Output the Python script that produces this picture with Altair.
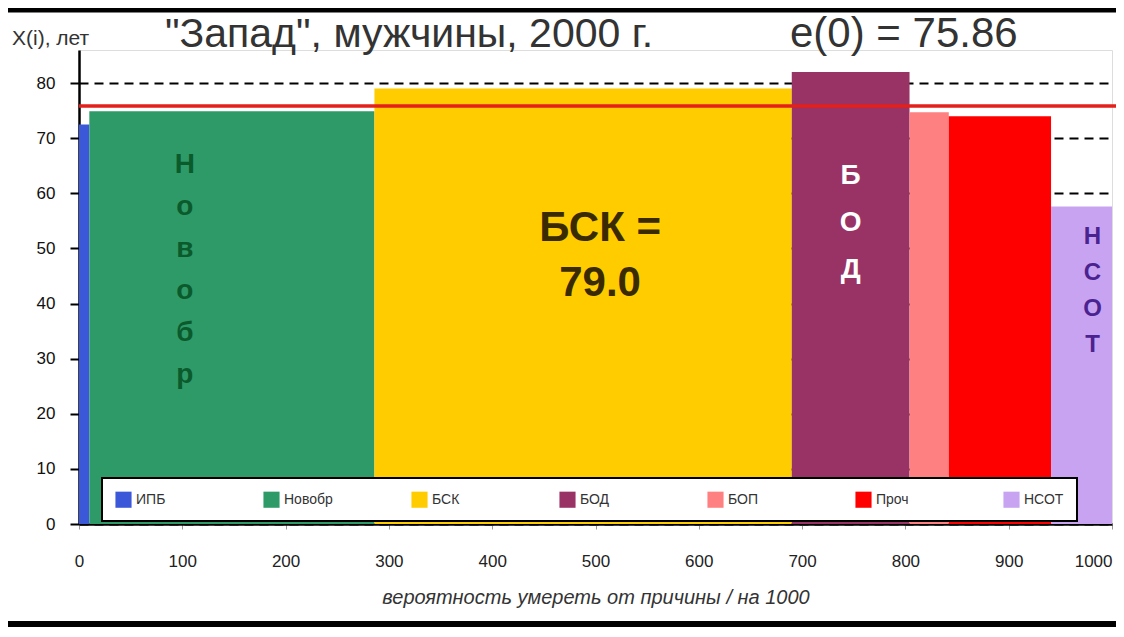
import altair as alt
import pandas as pd

# ---- data ----
causes = ["ИПБ", "Новобр", "БСК", "БОД", "БОП", "Проч", "НСОТ"]
widths = [10, 276, 404, 114, 38, 99, 59]            # probability of dying from cause, per 1000
heights = [72.5, 74.9, 79.0, 82.0, 74.7, 74.0, 57.6]  # mean age at death, years
colors = ["#3A58D8", "#2E9A68", "#FFCC00", "#993366", "#FF8080", "#FF0000", "#C7A3F2"]
e0 = 75.86
x_ticks = list(range(0, 1001, 100))
y_ticks = list(range(0, 81, 10))

title_left = "X(i), лет"
title_main = "\"Запад\", мужчины, 2000 г."
title_e0 = f"e(0) = {e0:.2f}"
x_title = "вероятность умереть от причины / на 1000"

# ---- derived table ----
x0, acc = [], 0
for w in widths:
    x0.append(acc)
    acc += w
df = pd.DataFrame({
    "cause": causes,
    "x0": x0,
    "x1": [a + w for a, w in zip(x0, widths)],
    "h": heights,
})
df["mid"] = (df["x0"] + df["x1"]) / 2

W, H = 1033, 474
FONT = "Liberation Sans"

xscale = alt.Scale(domain=[0, 1000], nice=False, zero=True)
yscale = alt.Scale(domain=[0, 86], nice=False, zero=True)

base = alt.Chart(df)

bars = base.mark_rect().encode(
    x=alt.X("x0:Q", scale=xscale,
            axis=alt.Axis(values=x_ticks, title=x_title, grid=False, format="d",
                          labelFontSize=17, labelColor="#222", labelPadding=24,
                          labelAlign={"expr": "datum.value == 1000 ? 'right' : 'center'"},
                          tickSize=5, tickColor="#999", tickWidth=1,
                          domainColor="black", domainWidth=2.5,
                          titleFontSize=20, titleFontStyle="italic", titleFontWeight="normal",
                          titleColor="#333", titlePadding=18, labelFlush=False)),
    x2="x1:Q",
    y=alt.Y("h:Q", scale=yscale,
            axis=alt.Axis(values=y_ticks, title=None, grid=True, gridDash=[9, 6],
                          gridColor="black", gridWidth=2.2,
                          labelFontSize=17, labelColor="#111", labelPadding=15,
                          tickSize=9, tickColor="black", tickWidth=2,
                          domainColor="black", domainWidth=2.5)),
    y2=alt.datum(0),
    color=alt.Color("cause:N", scale=alt.Scale(domain=causes, range=colors),
                    legend=alt.Legend(orient="none", legendX=23, legendY=428,
                                      direction="horizontal", columns=7, gridAlign="all",
                                      title=None, fillColor="white", strokeColor="black",
                                      padding=13, symbolType="square", symbolSize=260,
                                      symbolStrokeWidth=0, labelFontSize=14,
                                      labelColor="#333", columnPadding=78)),
)

red_line = alt.Chart(pd.DataFrame({"e0": [e0]})).mark_rule(
    color="#E3201B", strokeWidth=3.5
).encode(y=alt.Y("e0:Q", scale=yscale), x=alt.value(0), x2=alt.value(W + 4))


def bar_label(cause, text, size, color, line_h, y_px, dx):
    sub = df[df["cause"] == cause].copy()
    sub["lbl"] = text
    return alt.Chart(sub).mark_text(
        fontSize=size, fontWeight="bold", color=color, lineBreak="\n",
        lineHeight=line_h, align="center", baseline="middle", dx=dx, font=FONT
    ).encode(x=alt.X("mid:Q", scale=xscale), y=alt.value(y_px), text="lbl:N")


lab_nov = bar_label("Новобр", "\n".join("Новобр"), 28, "#0B5A2C", 42, 115, -47)
lab_bsk = bar_label("БСК", f"БСК =\n{heights[2]:.1f}", 42, "#3A2A00", 55, 178, 17)
lab_bod = bar_label("БОД", "\n".join("БОД"), 28, "white", 47, 126, 0)
lab_nsot = bar_label("НСОТ", "\n".join("НСОТ"), 24, "#4B2390", 36, 187, 11)


def free_text(t, x_px, y_px, size, color="#333", weight="normal"):
    return alt.Chart(pd.DataFrame({"t": [t]})).mark_text(
        fontSize=size, color=color, align="left", baseline="alphabetic",
        fontWeight=weight, font=FONT
    ).encode(x=alt.value(x_px), y=alt.value(y_px), text="t:N")


t1 = free_text(title_left, -67, -5, 21)
t2 = free_text(title_main, 86, -3, 41)
t3 = free_text(title_e0, 711, -3, 42)

frame_top = alt.Chart(pd.DataFrame({"k": [0]})).mark_rule(color="black", strokeWidth=5).encode(
    x=alt.value(-71), x2=alt.value(W + 4), y=alt.value(-40))
frame_bot = alt.Chart(pd.DataFrame({"k": [0]})).mark_rule(color="black", strokeWidth=6).encode(
    x=alt.value(-71), x2=alt.value(W + 4), y=alt.value(574))

chart = alt.layer(
    bars, red_line, lab_nov, lab_bsk, lab_bod, lab_nsot, t1, t2, t3, frame_top, frame_bot
).properties(
    width=W, height=H,
    autosize=alt.AutoSizeParams(type="none"),
    padding={"left": 71, "top": 42, "right": 4, "bottom": 104},
    background="white",
).configure_view(stroke=None).configure(font=FONT).configure_legend(strokeWidth=2)

chart.save("out.html", embed_options={"renderer": "svg", "actions": False})
